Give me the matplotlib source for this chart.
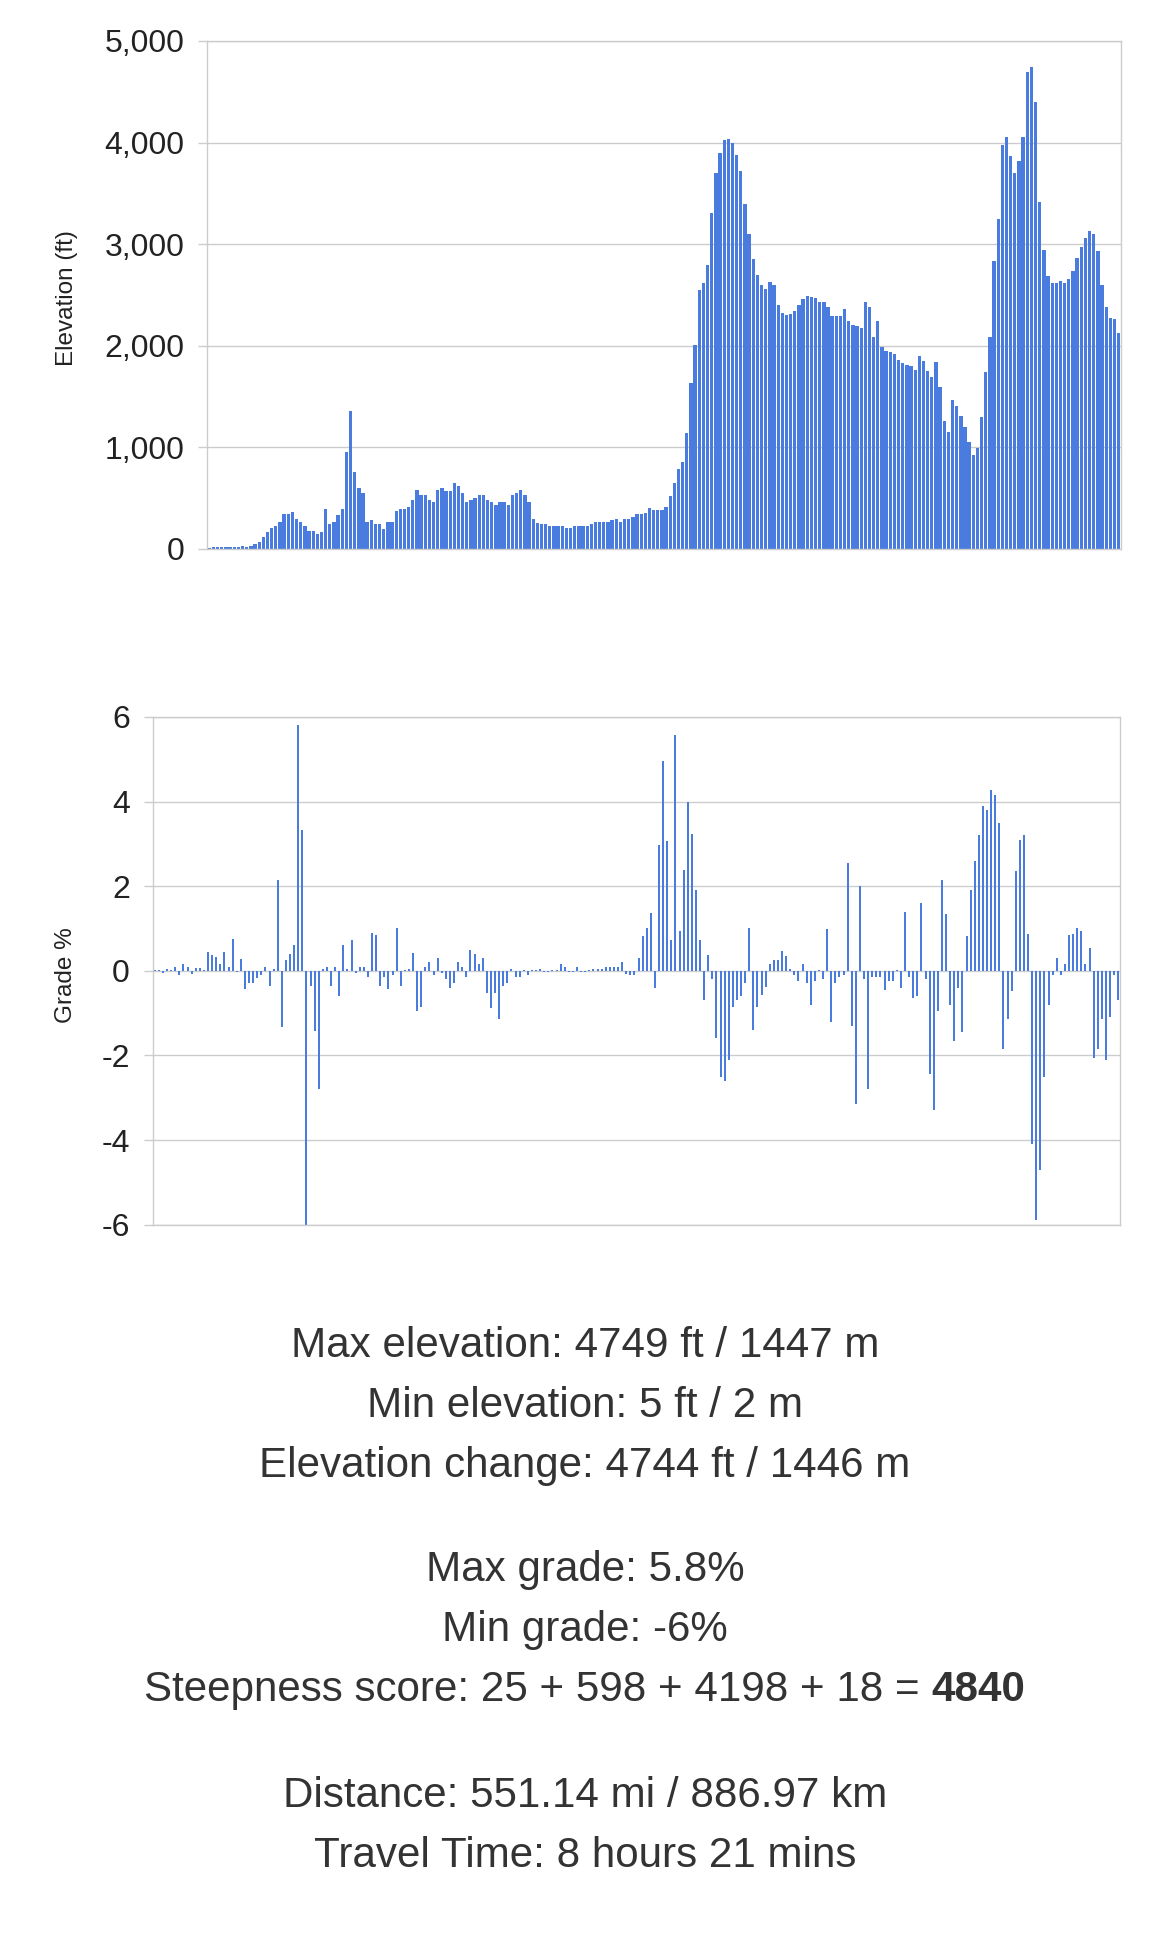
import matplotlib
matplotlib.use("Agg")
import matplotlib.pyplot as plt
import numpy as np
from matplotlib.ticker import FuncFormatter

# ---------------- data ----------------
elevation_ft = [
    5, 15, 20, 20, 15, 20, 15, 20, 30, 20,
    30, 45, 70, 115, 170, 210, 230, 268, 340, 340,
    360, 295, 268, 230, 175, 175, 150, 165, 390, 245,
    270, 335, 390, 955, 1355, 760, 600, 550, 268, 290,
    245, 250, 200, 268, 268, 370, 390, 390, 410, 485,
    580, 528, 528, 485, 460, 580, 600, 570, 570, 650,
    625, 550, 460, 480, 505, 528, 528, 485, 460, 435,
    460, 460, 435, 528, 550, 580, 528, 460, 295, 260,
    245, 245, 225, 225, 225, 225, 205, 205, 225, 225,
    225, 230, 245, 268, 268, 268, 268, 290, 295, 270,
    295, 295, 315, 340, 340, 355, 400, 385, 385, 380,
    410, 520, 650, 785, 860, 1145, 1635, 2005, 2550, 2620,
    2800, 3310, 3700, 3900, 4030, 4040, 4000, 3880, 3720, 3400,
    3100, 2850, 2700, 2600, 2560, 2630, 2600, 2400, 2320, 2300,
    2315, 2345, 2400, 2460, 2490, 2480, 2475, 2430, 2430, 2380,
    2290, 2290, 2290, 2365, 2240, 2200, 2190, 2175, 2430, 2380,
    2085, 2240, 1990, 1945, 1940, 1915, 1860, 1830, 1810, 1800,
    1765, 1895, 1850, 1755, 1690, 1840, 1590, 1260, 1150, 1465,
    1405, 1305, 1200, 1050, 925, 995, 1300, 1745, 2085, 2835,
    3245, 3980, 4055, 3865, 3700, 3820, 4055, 4690, 4749, 4400,
    3420, 2940, 2685, 2620, 2620, 2640, 2620, 2660, 2735, 2860,
    2975, 3060, 3125, 3100, 2935, 2600, 2385, 2275, 2265, 2125,
]

grade_pct = [
    0.03, 0.02, -0.05, 0.05, 0.03, 0.1, -0.1, 0.15, 0.1, -0.07,
    0.07, 0.07, 0.02, 0.45, 0.38, 0.33, 0.15, 0.45, 0.1, 0.75,
    -0.02, 0.28, -0.42, -0.3, -0.3, -0.18, -0.1, 0.1, -0.35, 0.05,
    2.15, -1.32, 0.25, 0.4, 0.6, 5.8, 3.33, -6.0, -0.35, -1.42,
    -2.8, 0.05, 0.1, -0.35, 0.1, -0.6, 0.6, 0.05, 0.72, -0.05,
    0.1, 0.1, -0.15, 0.9, 0.85, -0.35, -0.15, -0.42, -0.1, 1.0,
    -0.35, 0.02, 0.05, 0.42, -0.95, -0.85, 0.08, 0.2, -0.1, 0.3,
    -0.05, -0.2, -0.4, -0.3, 0.2, 0.1, -0.15, 0.5, 0.4, 0.15,
    0.3, -0.52, -0.88, -0.52, -1.15, -0.35, -0.28, 0.05, -0.15, -0.15,
    0.02, -0.1, 0.03, 0.03, 0.05, -0.02, -0.02, 0.03, 0.02, 0.15,
    0.1, -0.02, -0.03, 0.1, -0.03, -0.02, 0.02, 0.05, 0.05, 0.05,
    0.08, 0.08, 0.1, 0.08, 0.2, -0.08, -0.1, -0.1, 0.3, 0.82,
    1.0, 1.36, -0.4, 2.97, 4.95, 3.07, 0.73, 5.58, 0.95, 2.38,
    4.0, 3.23, 1.92, 0.72, -0.7, 0.38, -0.2, -1.6, -2.5, -2.6,
    -2.1, -0.85, -0.7, -0.6, -0.3, 1.0, -1.4, -0.85, -0.58, -0.38,
    0.15, 0.25, 0.25, 0.47, 0.35, 0.05, -0.1, -0.25, 0.15, -0.28,
    -0.8, -0.25, 0.02, -0.2, 0.98, -1.2, -0.3, -0.15, -0.1, 2.55,
    -1.3, -3.15, 2.0, -0.2, -2.8, -0.15, -0.15, -0.15, -0.45, -0.25,
    -0.25, 0.02, -0.4, 1.4, -0.15, -0.65, -0.6, 1.6, -0.2, -2.45,
    -3.3, -0.95, 2.15, 1.35, -0.8, -1.65, -0.4, -1.45, 0.82, 1.9,
    2.6, 3.2, 3.9, 3.8, 4.27, 4.15, 3.5, -1.85, -1.15, -0.48,
    2.35, 3.1, 3.22, 0.87, -4.1, -5.9, -4.7, -2.5, -0.8, -0.1,
    0.3, -0.1, 0.15, 0.85, 0.88, 1.0, 0.95, 0.17, 0.55, -2.05,
    -1.85, -1.15, -2.1, -1.1, -0.1, -0.7,
]

elev_ticks = [0, 1000, 2000, 3000, 4000, 5000]
grade_ticks = [-6, -4, -2, 0, 2, 4, 6]

elev_label = "Elevation (ft)"
grade_label = "Grade %"

stats_block_1 = ["Max elevation: 4749 ft / 1447 m",
                 "Min elevation: 5 ft / 2 m",
                 "Elevation change: 4744 ft / 1446 m"]
stats_block_2 = ["Max grade: 5.8%",
                 "Min grade: -6%"]
steepness_text = "Steepness score: 25 + 598 + 4198 + 18 = "
steepness_total = "4840"
stats_block_3 = ["Distance: 551.14 mi / 886.97 km",
                 "Travel Time: 8 hours 21 mins"]

# ---------------- style ----------------
W, H = 1170, 1953
plt.rcParams['font.family'] = ['Liberation Sans', 'DejaVu Sans']
BAR = '#4a7ce0'
GRID = '#cccccc'
TICKC = '#222222'
TEXTC = '#333333'

fig = plt.figure(figsize=(W / 100, H / 100), dpi=100)
fig.patch.set_facecolor('white')


def px_axes(left, top, right, bottom):
    return fig.add_axes([left / W, 1 - bottom / H, (right - left) / W, (bottom - top) / H])


def style_axes(ax):
    for s in ax.spines.values():
        s.set_color(GRID)
        s.set_linewidth(1.0)
    ax.set_xticks([])
    ax.tick_params(axis='y', length=6.5, width=1.0, color=GRID, pad=10,
                   labelsize=23, labelcolor=TICKC)
    ax.grid(axis='y', color=GRID, linewidth=1.0, zorder=0)
    ax.set_axisbelow(True)


# ---- elevation chart ----
ax1 = px_axes(207.3, 41, 1120.7, 549)
x1 = np.arange(len(elevation_ft))
ax1.bar(x1, elevation_ft, width=0.8, color=BAR, linewidth=0, zorder=2)
ax1.set_xlim(-0.5, len(elevation_ft) - 0.5)
ax1.set_ylim(0, 5000)
ax1.set_yticks(elev_ticks)
ax1.yaxis.set_major_formatter(FuncFormatter(lambda v, p: f"{int(v):,}"))
style_axes(ax1)
fig.text(67 / W, 1 - 298 / H, elev_label, rotation=90, ha='center', va='center',
         fontsize=17.5, color=TICKC)

# ---- grade chart ----
ax2 = px_axes(152.7, 717, 1120.3, 1224.6)
x2 = np.arange(len(grade_pct))
ax2.bar(x2, grade_pct, width=0.5, color=BAR, linewidth=0, zorder=2)
ax2.set_xlim(-0.5, len(grade_pct) - 0.5)
ax2.set_ylim(-6, 6)
ax2.set_yticks(grade_ticks)
ax2.yaxis.set_major_formatter(FuncFormatter(lambda v, p: f"{int(v)}"))
style_axes(ax2)
fig.text(66 / W, 1 - 975 / H, grade_label, rotation=90, ha='center', va='center',
         fontsize=17.5, color=TICKC)

# ---- stats text ----
FS = 30.3
baselines_1 = [1357, 1417, 1477]
baselines_2 = [1581, 1641]
baseline_steep = 1701
baselines_3 = [1807, 1867]

for s, b in zip(stats_block_1, baselines_1):
    fig.text(0.5, 1 - b / H, s, ha='center', va='baseline', fontsize=FS, color=TEXTC)
for s, b in zip(stats_block_2, baselines_2):
    fig.text(0.5, 1 - b / H, s, ha='center', va='baseline', fontsize=FS, color=TEXTC)
for s, b in zip(stats_block_3, baselines_3):
    fig.text(0.5, 1 - b / H, s, ha='center', va='baseline', fontsize=FS, color=TEXTC)

t_norm = fig.text(0, 1 - baseline_steep / H, steepness_text, ha='left', va='baseline',
                  fontsize=FS, color=TEXTC)
t_bold = fig.text(0, 1 - baseline_steep / H, steepness_total, ha='left', va='baseline',
                  fontsize=FS, color=TEXTC, fontweight='bold')
fig.canvas.draw()
r = fig.canvas.get_renderer()
w1 = t_norm.get_window_extent(r).width
w2 = t_bold.get_window_extent(r).width
x0 = (W - (w1 + w2)) / 2
t_norm.set_x(x0 / W)
t_bold.set_x((x0 + w1) / W)

fig.savefig("out.png", dpi=100, facecolor='white')
